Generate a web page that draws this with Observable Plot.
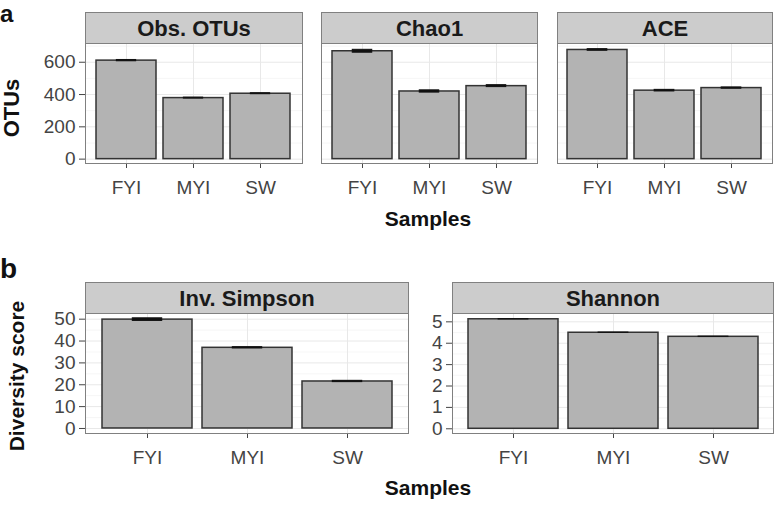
<!DOCTYPE html>
<html>
<head>
<meta charset="utf-8">
<script src="https://cdn.jsdelivr.net/npm/d3@7"></script>
<script src="https://cdn.jsdelivr.net/npm/@observablehq/plot@0.6"></script>
<style>
  html, body { margin: 0; padding: 0; background: #fff; }
  #root { position: relative; width: 775px; height: 506px; overflow: hidden; background: #fff;
          font-family: "Liberation Sans", Arial, Helvetica, sans-serif; }
  .abs { position: absolute; }
  .strip { position: absolute; box-sizing: border-box; border: 1px solid #808080; background: #cccccc;
           text-align: center; font-weight: bold; font-size: 22px; color: #1a1a1a; }
  .lbl { position: absolute; font-weight: bold; line-height: 1; white-space: nowrap; color: #111; }
</style>
</head>
<body>
<div id="root"></div>
<script>
// ---- data ----
const samples = ["FYI", "MYI", "SW"];
const obsOTUs = [610, 378, 405];
const obsOTUsErr = [4, 3, 3];
const chao1 = [668, 419, 452];
const chao1Err = [9, 7, 6];
const ace = [676, 424, 440];
const aceErr = [5, 5, 4];
const invSimpson = [49.8, 36.9, 21.5];
const invSimpsonErr = [0.6, 0.3, 0.3];
const shannon = [5.12, 4.49, 4.30];
const shannonErr = [0.01, 0.01, 0.01];
const otuTicks = [0, 200, 400, 600];
const otuMinor = [100, 300, 500, 700];
const invTicks = [0, 10, 20, 30, 40, 50];
const invMinor = [5, 15, 25, 35, 45];
const shanTicks = [0, 1, 2, 3, 4, 5];
const shanMinor = [0.5, 1.5, 2.5, 3.5, 4.5];

const root = document.getElementById("root");

function panel(o) {
  const w = o.right - o.left;
  const h = o.bottom - o.stripBottom;
  const mL = o.showY ? 80 : 1, mR = 1, mT = 1, mB = 45;
  const step = w / 3.2;
  const ins = 0.3 * step;
  const data = samples.map((s, i) => ({s, v: o.values[i], e: o.errs[i]}));
  const chart = Plot.plot({
    width: mL + w + mR,
    height: mT + h + mB,
    marginLeft: mL, marginRight: mR, marginTop: mT, marginBottom: mB,
    style: {fontSize: "19px", color: "#444", fontFamily: "Liberation Sans, Arial, sans-serif", background: "transparent", overflow: "visible"},
    x: {domain: samples, paddingInner: 0.1, paddingOuter: 0.15, tickSize: 5, tickPadding: 12, label: null},
    y: {domain: o.domain, ticks: o.ticks, tickFormat: d3.format("~g"), tickSize: 6, tickPadding: 4, label: null, axis: o.showY ? "left" : null},
    marks: [
      Plot.ruleY(o.minor, {stroke: "#f4f4f4", strokeWidth: 0.8}),
      Plot.gridY(o.ticks, {stroke: "#e8e8e8", strokeOpacity: 1}),
      Plot.gridX(samples, {stroke: "#e8e8e8", strokeOpacity: 1}),
      Plot.barY(data, {x: "s", y: "v", fill: "#b3b3b3", stroke: "#333", strokeWidth: 1.5}),
      Plot.barY(data, {x: "s", y1: d => d.v - d.e, y2: d => d.v + d.e, fill: "#111", stroke: "#111", strokeWidth: 1, insetLeft: ins, insetRight: ins}),
      Plot.frame({stroke: "#808080"})
    ]
  });
  const wrap = document.createElement("div");
  wrap.className = "abs";
  wrap.style.left = (o.left - mL) + "px";
  wrap.style.top = (o.stripBottom - mT) + "px";
  wrap.appendChild(chart);
  root.appendChild(wrap);
  const strip = document.createElement("div");
  strip.className = "strip";
  strip.style.left = o.left + "px";
  strip.style.top = o.stripTop + "px";
  strip.style.width = (w + 1) + "px";
  strip.style.height = (o.stripBottom - o.stripTop + 1) + "px";
  strip.style.lineHeight = (o.stripBottom - o.stripTop) + "px";
  strip.textContent = o.title;
  root.appendChild(strip);
}

function label(text, x, baseline, size, opts = {}) {
  const d = document.createElement("div");
  d.className = "lbl";
  d.textContent = text;
  d.style.fontSize = size + "px";
  if (opts.rotate) {
    d.style.left = x + "px";
    d.style.top = baseline + "px";
    d.style.transform = "translate(-50%,-50%) rotate(-90deg)";
  } else if (opts.center) {
    d.style.left = x + "px";
    d.style.top = (baseline - 0.846 * size) + "px";
    d.style.transform = "translateX(-50%)";
  } else {
    d.style.left = x + "px";
    d.style.top = (baseline - 0.846 * size) + "px";
  }
  root.appendChild(d);
}

// top row (panel a)
const topRow = {stripTop: 12, stripBottom: 43, bottom: 163, domain: [-27, 716], ticks: otuTicks, minor: otuMinor};
panel({...topRow, title: "Obs. OTUs", values: obsOTUs, errs: obsOTUsErr, left: 85, right: 302, showY: true});
panel({...topRow, title: "Chao1", values: chao1, errs: chao1Err, left: 321, right: 537, showY: false});
panel({...topRow, title: "ACE", values: ace, errs: aceErr, left: 557, right: 772, showY: false});

// bottom row (panel b)
const botRow = {stripTop: 282, stripBottom: 313, bottom: 433};
panel({...botRow, title: "Inv. Simpson", values: invSimpson, errs: invSimpsonErr, left: 85, right: 408,
       domain: [-2.3, 52.6], ticks: invTicks, minor: invMinor, showY: true});
panel({...botRow, title: "Shannon", values: shannon, errs: shannonErr, left: 452, right: 773,
       domain: [-0.22, 5.39], ticks: shanTicks, minor: shanMinor, showY: true});

// titles and panel letters
label("a", 0, 22, 24);
label("b", 0, 279, 28);
label("OTUs", 12, 108, 22, {rotate: true});
label("Diversity score", 16, 376, 21, {rotate: true});
label("Samples", 428, 226, 21, {center: true});
label("Samples", 428, 495, 21, {center: true});
</script>
</body>
</html>
